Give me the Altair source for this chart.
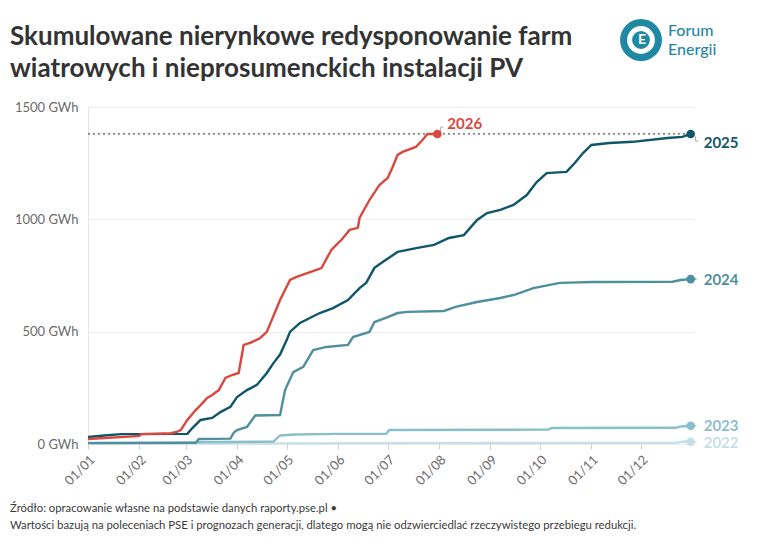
import altair as alt
import pandas as pd

# ---------------- data ----------------
month_days = [0, 31, 59, 90, 120, 151, 181, 212, 243, 273, 304, 334]
month_labels = ['01/01', '01/02', '01/03', '01/04', '01/05', '01/06',
                '01/07', '01/08', '01/09', '01/10', '01/11', '01/12']
y_ticks = [0, 500, 1000, 1500]

years = ['2022', '2023', '2024', '2025', '2026']
colors = ['#c6dfe6', '#8bbecb', '#4f8f9f', '#10566a', '#d9483f']

days_2022 = [0, 100, 200, 300, 355, 360, 364]
vals_2022 = [2, 3, 4, 5, 5, 11, 10]

days_2023 = [0, 40, 80, 112, 116, 125, 150, 180, 182, 278, 280, 355, 358, 364]
vals_2023 = [5, 7, 9, 11, 38, 42, 45, 45, 62, 64, 71, 72, 78, 81]

days_2024 = [0, 65, 67, 86, 88, 90, 96, 101, 116, 119, 124, 130, 136, 144, 157,
             160, 170, 173, 181, 187, 193, 215, 222, 235, 249, 257, 269, 285,
             305, 353, 358, 364]
vals_2024 = [4, 5, 22, 24, 50, 62, 76, 127, 129, 240, 320, 343, 418, 432, 441,
             476, 499, 543, 565, 583, 588, 592, 610, 632, 650, 663, 694, 717,
             721, 722, 730, 734]

days_2025 = [0, 10, 20, 60, 63, 68, 75, 80, 86, 90, 96, 102, 108, 112, 116,
             120, 122, 128, 134, 140, 148, 157, 164, 168, 173, 178, 187, 199,
             209, 218, 227, 235, 241, 249, 257, 265, 271, 277, 289, 294, 299,
             304, 315, 329, 350, 359, 364]
vals_2025 = [31, 38, 44, 45, 71, 107, 116, 142, 165, 209, 240, 263, 316, 360,
             398, 463, 499, 539, 561, 583, 605, 641, 694, 717, 784, 810, 855,
             873, 886, 917, 930, 997, 1028, 1042, 1064, 1108, 1166, 1206, 1211,
             1251, 1295, 1331, 1340, 1345, 1362, 1367, 1380]

days_2026 = [0, 10, 25, 31, 32, 50, 54, 56, 60, 65, 67, 72, 75, 79, 83, 87,
             91, 94, 98, 104, 108, 116, 122, 126, 138, 141, 147, 150, 153, 158,
             163, 164, 170, 176, 181, 184, 187, 190, 198, 202, 205, 211]
vals_2026 = [22, 27, 33, 36, 44, 48, 55, 62, 107, 151, 165, 205, 218, 240, 294,
             307, 316, 441, 450, 472, 499, 641, 730, 744, 775, 783, 864, 886,
             908, 953, 962, 1006, 1086, 1153, 1184, 1233, 1287, 1300, 1322,
             1353, 1380, 1380]

reference_level = 1380

title_lines = ['Skumulowane nierynkowe redysponowanie farm',
               'wiatrowych i nieprosumenckich instalacji PV']
source_lines = ['Źródło: opracowanie własne na podstawie danych raporty.pse.pl •',
                'Wartości bazują na poleceniach PSE i prognozach generacji, dlatego mogą nie odzwierciedlać rzeczywistego przebiegu redukcji.']
logo_lines = ['Forum', 'Energii']

# ---------------- frames ----------------
series = {'2022': (days_2022, vals_2022), '2023': (days_2023, vals_2023),
          '2024': (days_2024, vals_2024), '2025': (days_2025, vals_2025),
          '2026': (days_2026, vals_2026)}
rows = []
for y in years:
    d, v = series[y]
    for a, b in zip(d, v):
        rows.append({'year': y, 'day': a, 'value': b})
df = pd.DataFrame(rows)
ends = pd.DataFrame([{'year': y, 'day': series[y][0][-1], 'value': series[y][1][-1]} for y in years])

FONT = 'Lato'
W, H = 606, 337

color = alt.Color('year:N', scale=alt.Scale(domain=years, range=colors), legend=None)

labels_js = '[' + ','.join("'%s'" % m for m in month_labels) + ']'
days_js = '[' + ','.join(str(d) for d in month_days) + ']'

xs = alt.Scale(domain=[0, 366], nice=False, zero=False)
ys = alt.Scale(domain=[0, 1500], nice=False)

x_enc = alt.X('day:Q', scale=xs, axis=alt.Axis(
    values=month_days, labelExpr=f"{labels_js}[indexof({days_js}, datum.value)]",
    labelAngle=-45, labelFontSize=13, labelColor='#6b6b6b', labelFont=FONT,
    grid=False, domain=False, ticks=True, tickColor='#cfcfcf', tickSize=5,
    labelPadding=4, title=None))
y_enc = alt.Y('value:Q', scale=ys, axis=alt.Axis(
    values=y_ticks, labelExpr="datum.value + ' GWh'", labelFontSize=13,
    labelColor='#6b6b6b', labelFont=FONT, grid=True, gridColor='#ececec',
    domain=True, domainColor='#e6e6e6', ticks=False, labelPadding=10, title=None))

lines = alt.Chart(df).mark_line(strokeWidth=2.4, interpolate='linear').encode(
    x=x_enc, y=y_enc, color=color, detail='year:N')

ref = alt.Chart(pd.DataFrame({'x0': [0], 'x1': [series['2025'][0][-1]], 'v': [reference_level]})).mark_rule(
    strokeDash=[2, 3], color='#555555', strokeWidth=1.3).encode(
    x=alt.X('x0:Q', scale=xs), x2='x1:Q', y=alt.Y('v:Q', scale=ys))

dots = alt.Chart(ends).mark_circle(size=75, opacity=1).encode(
    x=alt.X('day:Q', scale=xs), y=alt.Y('value:Q', scale=ys), color=color)

label_offsets = {'2026': (10, -10), '2025': (13, 9), '2024': (13, 1),
                 '2023': (13, 0), '2022': (13, 1)}
label_layers = []
for i, y in enumerate(years):
    dx, dy = label_offsets[y]
    label_layers.append(
        alt.Chart(ends[ends.year == y]).mark_text(
            align='left', baseline='middle', dx=dx, dy=dy, fontSize=15,
            fontWeight='bold', font=FONT, color=colors[i]).encode(
            x=alt.X('day:Q', scale=xs), y=alt.Y('value:Q', scale=ys), text='year:N'))

# small connectors from the dots to the labels
conn_rows = [{'year': '2024', 'a': 364, 'b': 367.5, 'v': 734},
             {'year': '2023', 'a': 364, 'b': 367.5, 'v': 81},
             {'year': '2022', 'a': 364, 'b': 367.5, 'v': 8}]
conn = alt.Chart(pd.DataFrame(conn_rows)).mark_rule(strokeWidth=1.2).encode(
    x=alt.X('a:Q', scale=xs), x2='b:Q', y=alt.Y('v:Q', scale=ys), color=color)

# small gray brackets near the 2026 / 2025 labels
brk = pd.DataFrame([
    {'a': 213.0, 'b': 213.0, 'v1': 1388, 'v2': 1410},
    {'a': 213.0, 'b': 214.5, 'v1': 1410, 'v2': 1410},
    {'a': 367.0, 'b': 367.0, 'v1': 1370, 'v2': 1348},
    {'a': 367.0, 'b': 368.5, 'v1': 1348, 'v2': 1348},
])
brackets = alt.Chart(brk).mark_rule(strokeWidth=1, color='#a9a9a9').encode(
    x=alt.X('a:Q', scale=xs), x2='b:Q', y=alt.Y('v1:Q', scale=ys), y2='v2:Q')

# --- annotation texts (pixel positions relative to plot origin) ---
def txt(lines_, x0, y0, step, **kw):
    d = pd.DataFrame({'t': lines_, 'px': [x0] * len(lines_),
                      'py': [y0 + i * step for i in range(len(lines_))]})
    return alt.Chart(d).mark_text(align='left', baseline='alphabetic', font=FONT, **kw).encode(
        x=alt.X('px:Q', scale=None), y=alt.Y('py:Q', scale=None), text='t:N')

title = txt(title_lines, -78, -62, 32, fontSize=26, fontWeight='bold', color='#333333')
source = txt(source_lines, -78, 405, 17, fontSize=11.3, color='#3a3a3a')
logo_txt = txt(logo_lines, 580, -71, 19, fontSize=16, fontWeight=500, color='#1f88a3')

logo_circ = alt.Chart(pd.DataFrame({'px': [553], 'py': [-67]})).mark_point(
    shape='circle', filled=True, size=1760, color='#1f88a3', opacity=1).encode(
    x=alt.X('px:Q', scale=None), y=alt.Y('py:Q', scale=None))
logo_ring = alt.Chart(pd.DataFrame({'px': [553], 'py': [-67]})).mark_point(
    shape='circle', filled=False, size=520, color='white', strokeWidth=5, opacity=1).encode(
    x=alt.X('px:Q', scale=None), y=alt.Y('py:Q', scale=None))
logo_e = alt.Chart(pd.DataFrame({'px': [554], 'py': [-67], 't': ['E']})).mark_text(
    font=FONT, fontWeight='bold', fontSize=14, color='white', align='center', baseline='middle').encode(
    x=alt.X('px:Q', scale=None), y=alt.Y('py:Q', scale=None), text='t:N')

chart = alt.layer(
    ref, lines, conn, brackets, dots, *label_layers, title, source,
    logo_circ, logo_ring, logo_e, logo_txt
).properties(
    width=W, height=H,
    autosize=alt.AutoSizeParams(type='none'),
    padding={'left': 88, 'top': 107, 'right': 774 - 88 - W, 'bottom': 548 - 107 - H},
    background='white'
).configure_view(stroke=None)

chart.save('out.html', embed_options={'renderer': 'svg', 'actions': False})
